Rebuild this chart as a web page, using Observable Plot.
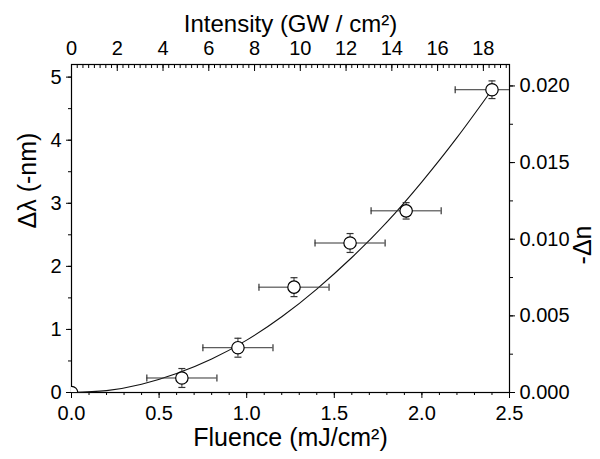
<!DOCTYPE html>
<html><head><meta charset="utf-8">
<script src="https://cdn.jsdelivr.net/npm/d3@7"></script>
<script src="https://cdn.jsdelivr.net/npm/@observablehq/plot@0.6"></script>
<style>body{margin:0;background:#fff}</style>
</head><body><div id="chart"></div>
<script>
// measured data points
const fluence      = [0, 0.63, 0.95, 1.27, 1.59, 1.91, 2.40];
const deltaLambda  = [0, 0.23, 0.71, 1.67, 2.37, 2.88, 4.80];
const fluenceErr   = [0, 0.20, 0.20, 0.20, 0.20, 0.20, 0.21];
const lambdaErr    = [0, 0.15, 0.15, 0.15, 0.15, 0.13, 0.14];
// fitted curve
const fitFluence = [0, 0.2, 0.4, 0.6, 0.8, 1.0, 1.2, 1.4, 1.6, 1.8, 2.0, 2.2, 2.4];
const fitLambda  = [0, 0.03, 0.13, 0.30, 0.53, 0.83, 1.20, 1.64, 2.14, 2.70, 3.34, 4.04, 4.80];
// axes
const fluenceTicks = [0, 0.5, 1.0, 1.5, 2.0, 2.5];
const lambdaTicks = [0, 1, 2, 3, 4, 5];
const intensityTicks = [0, 2, 4, 6, 8, 10, 12, 14, 16, 18];
const fluencePerIntensity = 0.1306;
const deltaNTicks = [0, 0.005, 0.010, 0.015, 0.020];
const lambdaPerDeltaN = 243;

const pts = fluence.map((x, i) => ({x, y: deltaLambda[i], ex: fluenceErr[i], ey: lambdaErr[i]}));
const errPts = pts.filter(d => d.ex > 0);
const fit = fitFluence.map((x, i) => ({x, y: fitLambda[i]}));

const vbar = {draw(ctx, size) { const h = Math.sqrt(size / Math.PI); ctx.moveTo(0, -h); ctx.lineTo(0, h); }};
const hbar = {draw(ctx, size) { const h = Math.sqrt(size / Math.PI); ctx.moveTo(-h, 0); ctx.lineTo(h, 0); }};

const minorX = d3.range(0, 2.5001, 0.1).map(v => +v.toFixed(2));
const minorY = d3.range(0, 5.2, 0.5);
const minorTop = d3.range(0, 19.2, 0.25).map(v => v * fluencePerIntensity).filter(v => v <= 2.5);
const minorRight = d3.range(0, 0.0214, 0.0025).map(v => v * lambdaPerDeltaN);
const F = "'Liberation Sans', Arial, Helvetica, sans-serif";

const chart = Plot.plot({
  width: 600, height: 459,
  marginLeft: 71, marginRight: 91, marginTop: 64, marginBottom: 67,
  style: {fontFamily: F, fontSize: "20px", background: "white", color: "black"},
  x: {domain: [0, 2.5], label: null},
  y: {domain: [0, 5.2], label: null},
  marks: [
    // bottom axis
    Plot.axisX({anchor: "bottom", ticks: minorX, tickSize: 3, tickFormat: () => "", label: null}),
    Plot.axisX({anchor: "bottom", ticks: fluenceTicks, tickSize: 6, tickPadding: 7, tickFormat: d3.format(".1f"), label: null}),
    // top axis (intensity), inward ticks
    Plot.axisX({anchor: "top", ticks: minorTop, tickSize: -3, tickFormat: () => "", label: null}),
    Plot.axisX({anchor: "top", ticks: intensityTicks.map(v => v * fluencePerIntensity), tickSize: -6, tickPadding: 16,
      tickFormat: (d, i) => String(intensityTicks[i]), label: null}),
    // left axis
    Plot.axisY({anchor: "left", ticks: minorY, tickSize: 3, tickFormat: () => "", label: null}),
    Plot.axisY({anchor: "left", ticks: lambdaTicks, tickSize: 5, tickPadding: 5, tickFormat: d3.format("d"), label: null}),
    // right axis (-Δn)
    Plot.axisY({anchor: "right", ticks: minorRight, tickSize: 3, tickFormat: () => "", label: null}),
    Plot.axisY({anchor: "right", ticks: deltaNTicks.map(v => v * lambdaPerDeltaN), tickSize: 5, tickPadding: 5,
      tickFormat: (d, i) => deltaNTicks[i].toFixed(3), label: null}),
    Plot.frame({stroke: "black", strokeWidth: 1.2}),
    // fit curve
    Plot.line(fit, {x: "x", y: "y", curve: "natural", stroke: "#111", strokeWidth: 1.1}),
    // error bars
    Plot.ruleY(errPts, {y: "y", x1: d => d.x - d.ex, x2: d => d.x + d.ex, stroke: "#333", strokeWidth: 1, clip: true}),
    Plot.ruleX(errPts, {x: "x", y1: d => d.y - d.ey, y2: d => d.y + d.ey, stroke: "#333", strokeWidth: 1, clip: true}),
    Plot.dot(errPts, {x: d => d.x - d.ex, y: "y", symbol: vbar, r: 3.5, fill: "none", stroke: "#333", strokeWidth: 1.2, clip: true}),
    Plot.dot(errPts, {x: d => d.x + d.ex, y: "y", symbol: vbar, r: 3.5, fill: "none", stroke: "#333", strokeWidth: 1.2, clip: true}),
    Plot.dot(errPts, {x: "x", y: d => d.y - d.ey, symbol: hbar, r: 3.5, fill: "none", stroke: "#333", strokeWidth: 1.2, clip: true}),
    Plot.dot(errPts, {x: "x", y: d => d.y + d.ey, symbol: hbar, r: 3.5, fill: "none", stroke: "#333", strokeWidth: 1.2, clip: true}),
    // points
    Plot.dot(pts, {x: "x", y: "y", r: 6.2, fill: "white", stroke: "black", strokeWidth: 1.2, clip: true}),
    // titles
    Plot.text(["Fluence (mJ/cm²)"], {frameAnchor: "bottom", dy: 53, fontSize: 25}),
    Plot.text(["Intensity (GW / cm²)"], {frameAnchor: "top", dy: -50, fontSize: 24}),
    Plot.text(["Δλ (-nm)"], {frameAnchor: "left", dx: -44, rotate: -90, fontSize: 25}),
    Plot.text(["-Δn"], {frameAnchor: "right", dx: 73, dy: -3, rotate: -90, fontSize: 25})
  ]
});
document.getElementById("chart").appendChild(chart);
</script>
</body></html>
